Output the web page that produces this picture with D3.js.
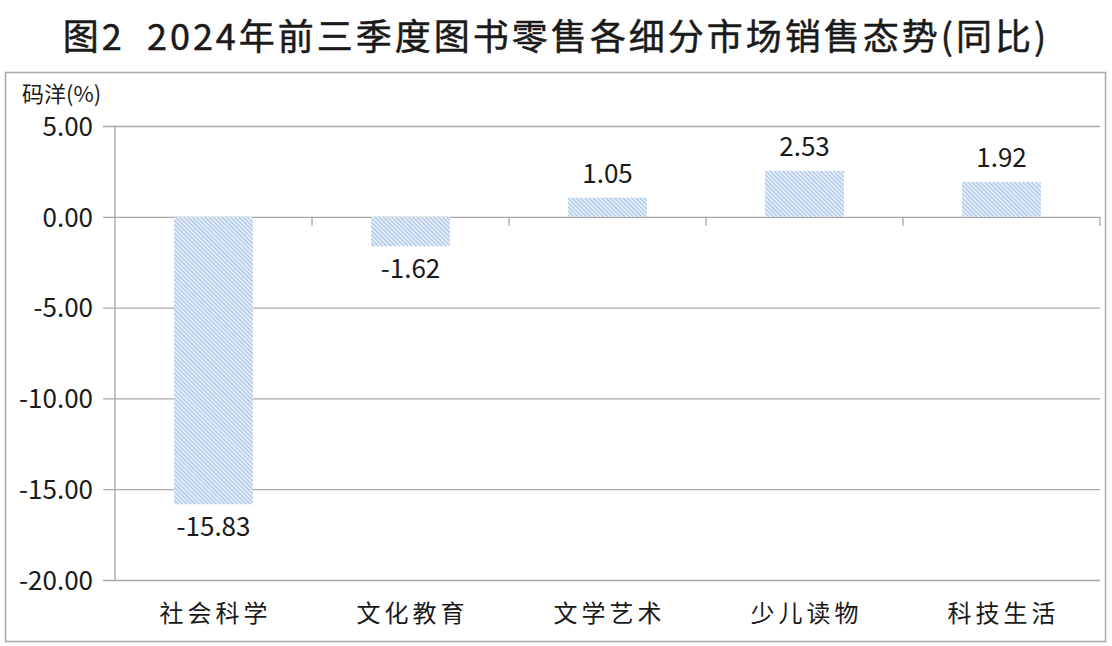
<!DOCTYPE html>
<html>
<head>
<meta charset="utf-8">
<script src="https://cdn.jsdelivr.net/npm/d3@7"></script>
<style>
  body { margin: 0; background: #fff; }
  text { font-family: "Noto Sans CJK SC", "Noto Sans", sans-serif; fill: #1a1a1a; }
</style>
</head>
<body>
<div id="chart"></div>
<script>
const title = '图2  2024年前三季度图书零售各细分市场销售态势(同比)'
const yLabel = '码洋(%)'
const categories = ['社会科学', '文化教育', '文学艺术', '少儿读物', '科技生活']
const values = [-15.83, -1.62, 1.05, 2.53, 1.92]
const yTicks = [5, 0, -5, -10, -15, -20]

const W = 1112
const H = 646
const margin = { top: 126, left: 115, right: 12, bottom: 66 }

// plain hyphen for negatives, like the original
const fmt = d => d.toFixed(2)

const svg = d3.select('#chart')
  .append('svg')
  .attr('width', W)
  .attr('height', H)

// hatch fill for bars
const defs = svg.append('defs')
const pat = defs.append('pattern')
  .attr('id', 'hatch')
  .attr('patternUnits', 'userSpaceOnUse')
  .attr('width', 3)
  .attr('height', 3)
  .attr('patternTransform', 'rotate(-45)')
pat.append('rect').attr('width', 3).attr('height', 3).attr('fill', '#e3edf8')
pat.append('line')
  .attr('x1', 0).attr('y1', 0).attr('x2', 0).attr('y2', 3)
  .attr('stroke', '#93b5de')
  .attr('stroke-width', 1.6)

// outer frame
svg.append('rect')
  .attr('x', 5.5).attr('y', 72.5)
  .attr('width', 1100).attr('height', 569)
  .attr('fill', 'none')
  .attr('stroke', '#a8a8a8')
  .attr('stroke-width', 1.5)

svg.append('text')
  .attr('x', W / 2)
  .attr('y', 50)
  .attr('text-anchor', 'middle')
  .attr('font-size', 36)
  .attr('font-weight', 400)
  .attr('letter-spacing', 3)
  .attr('stroke', '#1a1a1a')
  .attr('stroke-width', 0.5)
  .style('white-space', 'pre')
  .text(title)

svg.append('text')
  .attr('x', 22)
  .attr('y', 102)
  .attr('font-size', 22)
  .text(yLabel)

const x = d3.scaleBand()
  .domain(categories)
  .range([margin.left, W - margin.right])
  .paddingInner(0.6)
  .paddingOuter(0.3)

const y = d3.scaleLinear()
  .domain([-20, 5])
  .range([580, margin.top])

// gridlines + y labels
const yAxis = d3.axisLeft(y)
  .tickValues(yTicks)
  .tickFormat(fmt)
  .tickSize(-(W - margin.right - 103))
  .tickPadding(10)

svg.append('g')
  .attr('class', 'y-axis')
  .attr('transform', 'translate(103,0)')
  .call(yAxis)
  .call(g => g.select('.domain').remove())
  .call(g => g.selectAll('line').attr('stroke', '#a8a8a8').attr('stroke-width', 1.3))
  .call(g => g.selectAll('text').attr('font-size', 26).attr('fill', '#1a1a1a').attr('dy', '0.36em'))

// vertical axis line
svg.append('line')
  .attr('x1', margin.left).attr('x2', margin.left)
  .attr('y1', y(5)).attr('y2', y(-20))
  .attr('stroke', '#a8a8a8')
  .attr('stroke-width', 1.3)

// category ticks on the zero line
const bounds = categories.map(c => x(c) - x.step() * x.paddingInner() / 2 + x.step())
svg.append('g')
  .selectAll('line')
  .data(bounds)
  .enter()
  .append('line')
  .attr('x1', d => d).attr('x2', d => d)
  .attr('y1', y(0)).attr('y2', y(0) + 9)
  .attr('stroke', '#a8a8a8')
  .attr('stroke-width', 1.3)

// bars
svg.append('g')
  .selectAll('rect')
  .data(values)
  .enter()
  .append('rect')
  .attr('x', (d, i) => x(categories[i]))
  .attr('width', x.bandwidth())
  .attr('y', d => y(Math.max(0, d)))
  .attr('height', d => Math.abs(y(d) - y(0)))
  .attr('fill', 'url(#hatch)')

// value labels
svg.append('g')
  .selectAll('text')
  .data(values)
  .enter()
  .append('text')
  .attr('x', (d, i) => x(categories[i]) + x.bandwidth() / 2)
  .attr('y', d => d >= 0 ? y(d) - 15 : y(d) + 32)
  .attr('text-anchor', 'middle')
  .attr('font-size', 26)
  .text(fmt)

// category labels
svg.append('g')
  .selectAll('text')
  .data(categories)
  .enter()
  .append('text')
  .attr('x', d => x(d) + x.bandwidth() / 2 + 2)
  .attr('y', 622)
  .attr('text-anchor', 'middle')
  .attr('font-size', 24)
  .attr('letter-spacing', 4)
  .text(d => d)
</script>
</body>
</html>
